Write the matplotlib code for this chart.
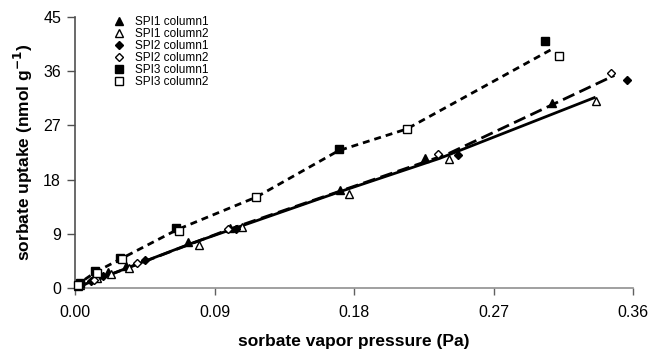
import matplotlib
matplotlib.use("Agg")
import matplotlib.pyplot as plt
from matplotlib.ticker import FormatStrFormatter

plt.rcParams['font.family'] = ['Liberation Sans', 'DejaVu Sans']

# ---- data ----
spi1_c1_x = [0.002, 0.012, 0.021, 0.033, 0.073, 0.100, 0.171, 0.226, 0.308]
spi1_c1_y = [0.4, 1.8, 2.6, 3.6, 7.6, 9.9, 16.3, 21.6, 30.7]
spi1_c2_x = [0.003, 0.014, 0.023, 0.035, 0.080, 0.108, 0.177, 0.241, 0.336]
spi1_c2_y = [0.5, 1.6, 2.4, 3.4, 7.2, 10.2, 15.6, 21.4, 31.0]
spi2_c1_x = [0.002, 0.010, 0.018, 0.045, 0.104, 0.247, 0.356]
spi2_c1_y = [0.5, 1.2, 2.0, 4.6, 9.8, 22.1, 34.5]
spi2_c2_x = [0.003, 0.012, 0.040, 0.099, 0.234, 0.346]
spi2_c2_y = [0.6, 1.4, 4.2, 9.8, 22.3, 35.7]
spi3_c1_x = [0.003, 0.013, 0.029, 0.065, 0.170, 0.303]
spi3_c1_y = [0.8, 2.8, 5.0, 10.0, 23.1, 41.0]
spi3_c2_x = [0.002, 0.014, 0.030, 0.067, 0.117, 0.214, 0.312]
spi3_c2_y = [0.5, 2.5, 4.8, 9.5, 15.1, 26.4, 38.5]

# trend lines as drawn in the picture
spi1_line_x = [0.0, 0.075, 0.171, 0.235, 0.335]
spi1_line_y = [0.0, 7.4, 16.0, 21.5, 31.6]
spi2_line_x = [0.0, 0.100, 0.240, 0.348]
spi2_line_y = [0.0, 9.8, 22.2, 35.3]
spi3_line_x = [0.0, 0.013, 0.030, 0.066, 0.117, 0.170, 0.214, 0.308]
spi3_line_y = [0.3, 2.6, 4.9, 9.7, 15.1, 22.8, 26.4, 39.7]

labels = ["SPI1 column1", "SPI1 column2", "SPI2 column1",
          "SPI2 column2", "SPI3 column1", "SPI3 column2"]
x_ticks = [0.00, 0.09, 0.18, 0.27, 0.36]
y_ticks = [0, 9, 18, 27, 36, 45]

fig = plt.figure(figsize=(6.5, 3.54), dpi=100)
ax = fig.add_axes([75/650, 1-288/354, (633-75)/650, (288-17)/354])

lw = 2.0
ax.plot(spi1_line_x, spi1_line_y, color='black', lw=lw, ls='-', zorder=2)
ax.plot(spi2_line_x, spi2_line_y, color='black', lw=lw, ls=(0, (4.5, 2)), zorder=2)
ax.plot(spi3_line_x, spi3_line_y, color='black', lw=lw, ls=(0, (2.5, 1.8)), zorder=2)

ms = 6
kw = dict(ls='none', clip_on=False, zorder=3, markeredgecolor='black', markeredgewidth=1.0)
ax.plot(spi1_c1_x, spi1_c1_y, marker='^', color='black', ms=ms, label=labels[0], **kw)
ax.plot(spi1_c2_x, spi1_c2_y, marker='^', markerfacecolor='white', color='black', ms=ms, label=labels[1], **kw)
ax.plot(spi2_c1_x, spi2_c1_y, marker='D', color='black', ms=ms-1.5, label=labels[2], **kw)
ax.plot(spi2_c2_x, spi2_c2_y, marker='D', markerfacecolor='white', color='black', ms=ms-1.5, label=labels[3], **kw)
ax.plot(spi3_c1_x, spi3_c1_y, marker='s', color='black', ms=ms-0.5, label=labels[4], **kw)
ax.plot(spi3_c2_x, spi3_c2_y, marker='s', markerfacecolor='white', color='black', ms=ms-0.5, label=labels[5], **kw)

ax.set_xlim(0, 0.36)
ax.set_ylim(0, 45)
ax.set_xticks(x_ticks)
ax.set_yticks(y_ticks)
ax.xaxis.set_major_formatter(FormatStrFormatter('%.2f'))
for s in ['top', 'right']:
    ax.spines[s].set_visible(False)
ax.spines['bottom'].set_color('#909090')
ax.spines['left'].set_color('#505050')
ax.spines['bottom'].set_linewidth(1.2)
ax.spines['left'].set_linewidth(1.2)
ax.tick_params(axis='x', direction='out', length=5, width=1, color='#606060',
               labelsize=11.5, pad=7)
ax.tick_params(axis='y', direction='out', length=6, width=1, color='#505050',
               labelsize=11.5, pad=4)

ax.set_xlabel("sorbate vapor pressure (Pa)", fontsize=12.5, fontweight='bold', labelpad=10)
ax.set_ylabel("sorbate uptake (nmol g$^{\\mathbf{-1}}$)", fontsize=12.5, fontweight='bold', labelpad=6)

leg = ax.legend(loc='upper left', bbox_to_anchor=(0.068, 1.005), frameon=False,
                fontsize=8.5, labelspacing=0.0, handlelength=1.0,
                handletextpad=0.9, borderaxespad=0, borderpad=0)

fig.savefig("out.png", dpi=100)
